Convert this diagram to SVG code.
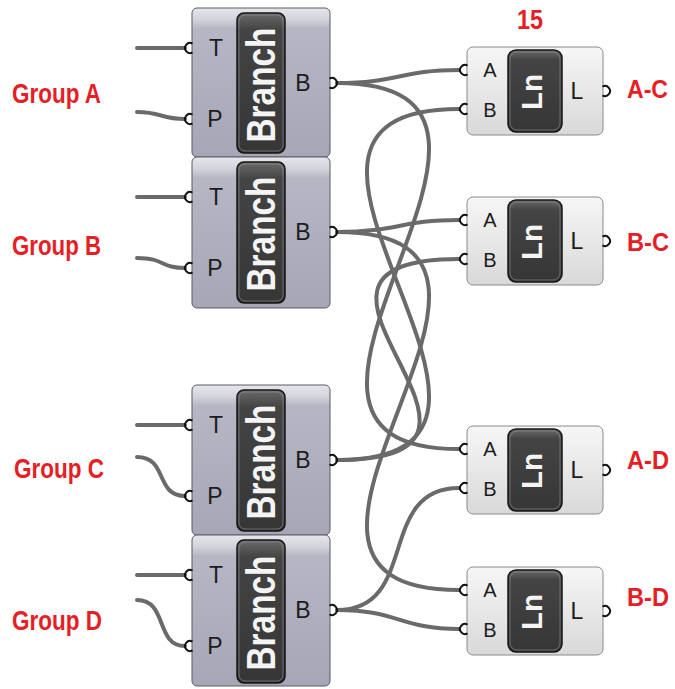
<svg xmlns="http://www.w3.org/2000/svg" width="675" height="689" viewBox="0 0 675 689">
<style>
.wire{fill:none;stroke:#6a6a6a;stroke-width:4;stroke-linecap:round}
.bbox{fill:url(#gBranch);stroke:#5c5c64;stroke-width:1}
.lbox{fill:url(#gLn);stroke:#8a8a8a;stroke-width:1}
.cap{fill:url(#gCap);stroke:#161616;stroke-width:1.5}
.caprim{fill:none;stroke:#9a9a9a;stroke-width:1;opacity:.55}
.port{fill:none;stroke:#111;stroke-width:2}
.plab{font-family:"Liberation Sans",Arial,sans-serif;font-size:23px;fill:#1c1c1c}
.plabs{font-family:"Liberation Sans",Arial,sans-serif;font-size:20px;fill:#1c1c1c}
.ctext{font-family:"Liberation Sans",Arial,sans-serif;font-weight:bold;fill:#f4f4f4;text-anchor:middle;dominant-baseline:central}
.red{font-family:"Liberation Sans",Arial,sans-serif;font-weight:bold;font-size:28px;fill:#e61e26}
.redr{font-family:"Liberation Sans",Arial,sans-serif;font-weight:bold;font-size:25px;fill:#e61e26}
</style>
<defs>
<linearGradient id="gBranch" x1="0" y1="0" x2="0" y2="1">
<stop offset="0" stop-color="#e6e6ec"/>
<stop offset="0.08" stop-color="#d2d2da"/>
<stop offset="0.14" stop-color="#b6b6c4"/>
<stop offset="1" stop-color="#a6a6b6"/>
</linearGradient>
<linearGradient id="gLn" x1="0" y1="0" x2="0" y2="1">
<stop offset="0" stop-color="#f6f6f6"/>
<stop offset="1" stop-color="#d9d9d9"/>
</linearGradient>
<linearGradient id="gCap" x1="0" y1="0" x2="0" y2="1">
<stop offset="0" stop-color="#6a6a6a"/>
<stop offset="0.12" stop-color="#444"/>
<stop offset="1" stop-color="#363636"/>
</linearGradient>
</defs>
<rect width="675" height="689" fill="#fff"/>

<g id="connectors">
<path class="wire" d="M137,48 L185,48"/>
<path class="wire" d="M137,112 C162,112 160,119 185,119"/>
<path class="wire" d="M137,197 L185,197"/>
<path class="wire" d="M137,258 C165,258 160,268 185,268"/>
<path class="wire" d="M137,425 L185,425"/>
<path class="wire" d="M137,457 C168,457 155,496 185,496"/>
<path class="wire" d="M137,575 L185,575"/>
<path class="wire" d="M137,600 C168,600 155,646 185,646"/>
<path class="wire" d="M337,83 C398,83 400,70 459,70"/>
<path class="wire" d="M337,83 C595,83 201,449 459,449"/>
<path class="wire" d="M337,232 C398,232 400,220 459,220"/>
<path class="wire" d="M337,232 C595,232 201,590 459,590"/>
<path class="wire" d="M337,460 C595,460 201,109 459,109"/>
<path class="wire" d="M337,460 C560,460 236,259 459,259"/>
<path class="wire" d="M337,610 C420,610 376,488 459,488"/>
<path class="wire" d="M337,610 C398,610 400,629 459,629"/>
</g>

<g id="branchA" transform="translate(192,8)">
<rect class="bbox" x="0" y="0" width="138" height="149" rx="5"/>
<path class="port" d="M0.5,35.67 A5,5 0 1 0 0.5,44.33"/>
<path class="port" d="M0.5,106.67 A5,5 0 1 0 0.5,115.33"/>
<path class="port" d="M137.5,70.67 A5,5 0 1 1 137.5,79.33"/>
<text class="plab" x="24" y="48" text-anchor="middle">T</text>
<text class="plab" x="23" y="119" text-anchor="middle">P</text>
<text class="plab" x="111" y="83" text-anchor="middle">B</text>
<rect class="cap" x="45" y="5" width="48" height="140" rx="7"/>
<rect class="caprim" x="47" y="7" width="44" height="136" rx="6"/>
<text class="ctext" font-size="40" textLength="115" lengthAdjust="spacingAndGlyphs" transform="translate(69,77) rotate(-90)">Branch</text>
</g>

<g id="branchB" transform="translate(192,157)">
<rect class="bbox" x="0" y="0" width="138" height="151" rx="5"/>
<path class="port" d="M0.5,35.67 A5,5 0 1 0 0.5,44.33"/>
<path class="port" d="M0.5,106.67 A5,5 0 1 0 0.5,115.33"/>
<path class="port" d="M137.5,70.67 A5,5 0 1 1 137.5,79.33"/>
<text class="plab" x="24" y="48" text-anchor="middle">T</text>
<text class="plab" x="23" y="119" text-anchor="middle">P</text>
<text class="plab" x="111" y="83" text-anchor="middle">B</text>
<rect class="cap" x="45" y="5" width="48" height="141" rx="7"/>
<rect class="caprim" x="47" y="7" width="44" height="137" rx="6"/>
<text class="ctext" font-size="40" textLength="115" lengthAdjust="spacingAndGlyphs" transform="translate(69,77) rotate(-90)">Branch</text>
</g>

<g id="branchC" transform="translate(192,385)">
<rect class="bbox" x="0" y="0" width="138" height="150" rx="5"/>
<path class="port" d="M0.5,35.67 A5,5 0 1 0 0.5,44.33"/>
<path class="port" d="M0.5,106.67 A5,5 0 1 0 0.5,115.33"/>
<path class="port" d="M137.5,70.67 A5,5 0 1 1 137.5,79.33"/>
<text class="plab" x="24" y="48" text-anchor="middle">T</text>
<text class="plab" x="23" y="119" text-anchor="middle">P</text>
<text class="plab" x="111" y="83" text-anchor="middle">B</text>
<rect class="cap" x="45" y="5" width="48" height="141" rx="7"/>
<rect class="caprim" x="47" y="7" width="44" height="137" rx="6"/>
<text class="ctext" font-size="40" textLength="115" lengthAdjust="spacingAndGlyphs" transform="translate(69,77) rotate(-90)">Branch</text>
</g>

<g id="branchD" transform="translate(192,535)">
<rect class="bbox" x="0" y="0" width="138" height="151" rx="5"/>
<path class="port" d="M0.5,35.67 A5,5 0 1 0 0.5,44.33"/>
<path class="port" d="M0.5,106.67 A5,5 0 1 0 0.5,115.33"/>
<path class="port" d="M137.5,70.67 A5,5 0 1 1 137.5,79.33"/>
<text class="plab" x="24" y="48" text-anchor="middle">T</text>
<text class="plab" x="23" y="119" text-anchor="middle">P</text>
<text class="plab" x="111" y="83" text-anchor="middle">B</text>
<rect class="cap" x="45" y="5" width="48" height="143" rx="7"/>
<rect class="caprim" x="47" y="7" width="44" height="139" rx="6"/>
<text class="ctext" font-size="40" textLength="115" lengthAdjust="spacingAndGlyphs" transform="translate(69,78) rotate(-90)">Branch</text>
</g>

<g id="ln1" transform="translate(467,47)">
<rect class="lbox" x="0" y="0" width="136" height="88" rx="6"/>
<path class="port" d="M0.5,18.67 A5,5 0 1 0 0.5,27.33"/>
<path class="port" d="M0.5,57.67 A5,5 0 1 0 0.5,66.33"/>
<path class="port" d="M135.5,39.67 A5,5 0 1 1 135.5,48.33"/>
<text class="plabs" x="23" y="30" text-anchor="middle">A</text>
<text class="plabs" x="23" y="70" text-anchor="middle">B</text>
<text class="plab" x="110" y="52" text-anchor="middle">L</text>
<rect class="cap" x="41" y="3" width="54" height="82" rx="8"/>
<rect class="caprim" x="43" y="5" width="50" height="78" rx="7"/>
<text class="ctext" font-size="30" textLength="36" lengthAdjust="spacingAndGlyphs" transform="translate(64,45) rotate(-90)">Ln</text>
</g>

<g id="ln2" transform="translate(467,197)">
<rect class="lbox" x="0" y="0" width="136" height="88" rx="6"/>
<path class="port" d="M0.5,18.67 A5,5 0 1 0 0.5,27.33"/>
<path class="port" d="M0.5,57.67 A5,5 0 1 0 0.5,66.33"/>
<path class="port" d="M135.5,39.67 A5,5 0 1 1 135.5,48.33"/>
<text class="plabs" x="23" y="30" text-anchor="middle">A</text>
<text class="plabs" x="23" y="70" text-anchor="middle">B</text>
<text class="plab" x="110" y="52" text-anchor="middle">L</text>
<rect class="cap" x="41" y="3" width="54" height="82" rx="8"/>
<rect class="caprim" x="43" y="5" width="50" height="78" rx="7"/>
<text class="ctext" font-size="30" textLength="36" lengthAdjust="spacingAndGlyphs" transform="translate(64,45) rotate(-90)">Ln</text>
</g>

<g id="ln3" transform="translate(467,426)">
<rect class="lbox" x="0" y="0" width="136" height="88" rx="6"/>
<path class="port" d="M0.5,18.67 A5,5 0 1 0 0.5,27.33"/>
<path class="port" d="M0.5,57.67 A5,5 0 1 0 0.5,66.33"/>
<path class="port" d="M135.5,39.67 A5,5 0 1 1 135.5,48.33"/>
<text class="plabs" x="23" y="30" text-anchor="middle">A</text>
<text class="plabs" x="23" y="70" text-anchor="middle">B</text>
<text class="plab" x="110" y="52" text-anchor="middle">L</text>
<rect class="cap" x="41" y="3" width="54" height="82" rx="8"/>
<rect class="caprim" x="43" y="5" width="50" height="78" rx="7"/>
<text class="ctext" font-size="30" textLength="36" lengthAdjust="spacingAndGlyphs" transform="translate(64,45) rotate(-90)">Ln</text>
</g>

<g id="ln4" transform="translate(467,567)">
<rect class="lbox" x="0" y="0" width="136" height="88" rx="6"/>
<path class="port" d="M0.5,18.67 A5,5 0 1 0 0.5,27.33"/>
<path class="port" d="M0.5,57.67 A5,5 0 1 0 0.5,66.33"/>
<path class="port" d="M135.5,39.67 A5,5 0 1 1 135.5,48.33"/>
<text class="plabs" x="23" y="30" text-anchor="middle">A</text>
<text class="plabs" x="23" y="70" text-anchor="middle">B</text>
<text class="plab" x="110" y="52" text-anchor="middle">L</text>
<rect class="cap" x="41" y="3" width="54" height="82" rx="8"/>
<rect class="caprim" x="43" y="5" width="50" height="78" rx="7"/>
<text class="ctext" font-size="30" textLength="36" lengthAdjust="spacingAndGlyphs" transform="translate(64,45) rotate(-90)">Ln</text>
</g>

<g id="labels">
<text class="red" x="517" y="29" font-size="26" textLength="26" lengthAdjust="spacingAndGlyphs">15</text>
<text class="red" x="12" y="103" textLength="89" lengthAdjust="spacingAndGlyphs">Group A</text>
<text class="red" x="12" y="255" textLength="89" lengthAdjust="spacingAndGlyphs">Group B</text>
<text class="red" x="14" y="478" textLength="90" lengthAdjust="spacingAndGlyphs">Group C</text>
<text class="red" x="12" y="630" textLength="90" lengthAdjust="spacingAndGlyphs">Group D</text>
<text class="redr" x="627" y="98" textLength="41" lengthAdjust="spacingAndGlyphs">A-C</text>
<text class="redr" x="627" y="251" textLength="42" lengthAdjust="spacingAndGlyphs">B-C</text>
<text class="redr" x="627" y="469" textLength="42" lengthAdjust="spacingAndGlyphs">A-D</text>
<text class="redr" x="627" y="606" textLength="42" lengthAdjust="spacingAndGlyphs">B-D</text>
</g>
</svg>
